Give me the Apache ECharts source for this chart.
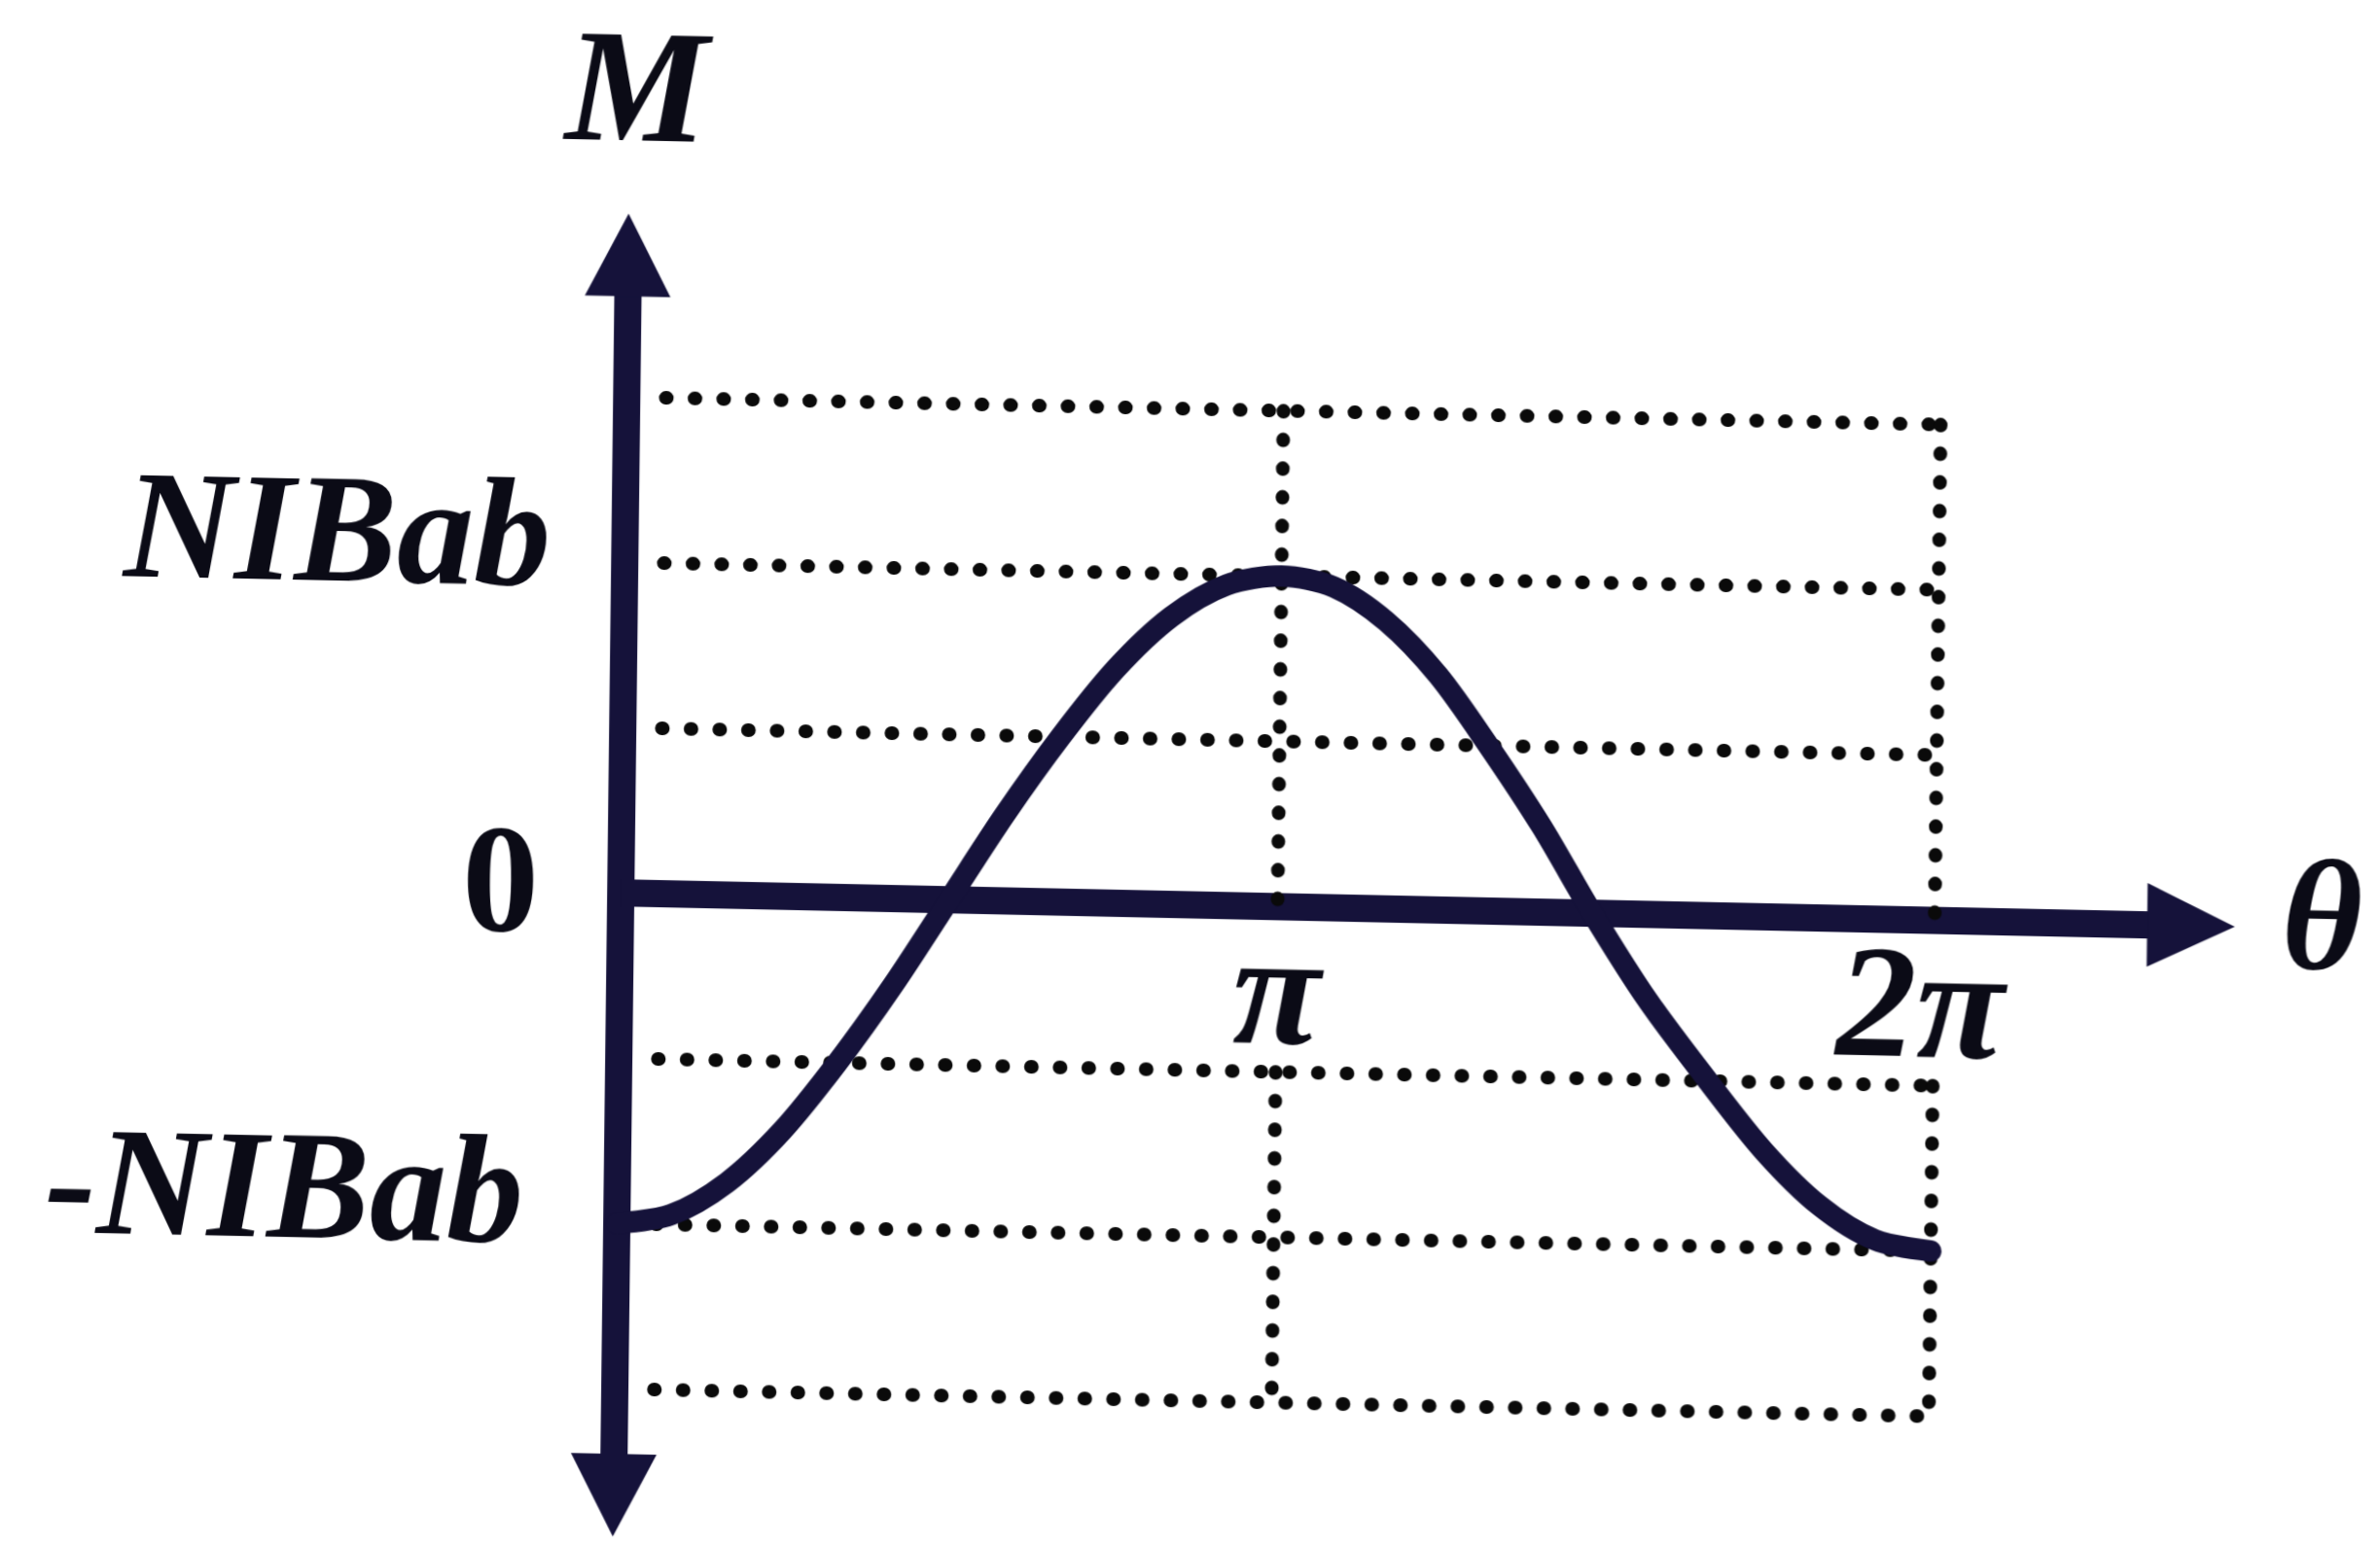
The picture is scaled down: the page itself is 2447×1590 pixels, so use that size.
<!DOCTYPE html>
<html>
<head>
<meta charset="utf-8">
<title>M – θ</title>
<script src="https://cdn.jsdelivr.net/npm/echarts@6/dist/echarts.min.js"></script>
<style>
  html, body { margin: 0; padding: 0; background: #ffffff; overflow: hidden; }
  #chart {
    width: 2447px; height: 1590px;
    /* the printed figure sits slightly askew on the page */
    transform: matrix(1, 0.021, -0.012, 1, 0, 0);
    transform-origin: 0 1590px;
  }
</style>
</head>
<body>
<div id="chart"></div>
<script>
// θ in units of π, M in units of NIBab
const thetaPts = [0, 0.083, 0.167, 0.25, 0.333, 0.417, 0.5, 0.583, 0.667, 0.75, 0.833, 0.917, 1,
                  1.08, 1.16, 1.24, 1.318, 1.4, 1.479, 1.565, 1.658, 1.745, 1.83, 1.915, 2];
const mValues  = [-1, -0.97, -0.87, -0.71, -0.5, -0.26, 0, 0.26, 0.5, 0.71, 0.87, 0.97, 1,
                  0.97, 0.87, 0.71, 0.5, 0.26, 0, -0.26, -0.5, -0.71, -0.87, -0.97, -1];

// axis labels
const yTickValues = [1, 0, -1];
const yTickLabels = ['NIBab', '0', '-NIBab'];
const xTickValues = [1, 2];
const xTickLabels = ['π', '2π'];

// dotted guide lines: rows span the box, columns stop around the θ labels
const gridRows = [1.5, 1, 0.5, -0.5, -1, -1.5];
const gridCols = [1, 2];
const rowStart = 0.06, rowEnd = 2;
const colSegments = [[1.5, 0], [-0.5, -1.5]];

// axis extents (beyond the guide box, up to the arrow heads)
const xMin = 0, xMax = 2.39;
const yMin = -1.822, yMax = 1.93;

const INK = '#0b0b16';
const LINE = '#15123a';
const FONT = "'Liberation Serif', 'Times New Roman', serif";

const GRID = { left: 629.7, top: 248.9, right: 202.6, bottom: 65.5 };
const plotHeight = 1590 - GRID.top - GRID.bottom;
// the θ axis is drawn through M = 0
const zeroOffset = -(0 - yMin) / (yMax - yMin) * plotHeight;

function tf(size, extra) {
  return Object.assign({
    fontFamily: FONT, fontSize: size, fontStyle: 'italic', fontWeight: 'bold',
    color: INK, lineHeight: size
  }, extra || {});
}

const dotStyle = { color: '#0a0a0a', width: 14, type: [1, 28.5], cap: 'round' };

const guideSeries = [];
gridRows.forEach(v => {
  guideSeries.push({
    type: 'line', silent: true, symbol: 'none', z: 1, animation: false,
    data: [[rowStart, v], [rowEnd, v]],
    lineStyle: dotStyle
  });
});
gridCols.forEach(c => {
  colSegments.forEach(seg => {
    guideSeries.push({
      type: 'line', silent: true, symbol: 'none', z: 1, animation: false,
      data: [[c, seg[0]], [c, seg[1]]],
      lineStyle: dotStyle
    });
  });
});

const curve = {
  type: 'line', name: 'M', z: 3, symbol: 'none', smooth: 0.3, animation: false,
  data: thetaPts.map((t, i) => [t, mValues[i]]),
  lineStyle: { color: LINE, width: 22, cap: 'round', join: 'round' }
};

const chart = echarts.init(document.getElementById('chart'), null, { renderer: 'canvas' });
chart.setOption({
  backgroundColor: '#ffffff',
  animation: false,
  grid: Object.assign({ containLabel: false, outerBoundsMode: 'none' }, GRID),
  xAxis: {
    type: 'value', min: xMin, max: xMax,
    position: 'bottom', offset: zeroOffset,
    name: 'θ', nameLocation: 'end', nameGap: 93,
    nameTextStyle: tf(160, { align: 'left', verticalAlign: 'middle', padding: [0, 0, 20, 0] }),
    axisLine: {
      show: true, onZero: false,
      symbol: ['none', 'triangle'], symbolSize: [86, 90],
      lineStyle: { color: LINE, width: 28, cap: 'butt' }
    },
    axisTick: { show: false },
    splitLine: { show: false },
    axisLabel: {
      show: true, margin: 15, customValues: xTickValues,
      formatter: v => {
        const i = xTickValues.indexOf(v);
        return i === 0 ? '{a|' + xTickLabels[i] + '}' : '{b|' + xTickLabels[i] + '}';
      },
      rich: {
        a: tf(165),
        b: tf(165, { padding: [0, 28, 0, 0] })
      }
    }
  },
  yAxis: {
    type: 'value', min: yMin, max: yMax,
    name: 'M', nameLocation: 'end', nameGap: 161,
    nameTextStyle: tf(165, { align: 'center', verticalAlign: 'middle', padding: [0, 0, 0, 14] }),
    axisLine: {
      show: true, onZero: false,
      symbol: ['triangle', 'triangle'], symbolSize: [88, 85],
      lineStyle: { color: LINE, width: 28, cap: 'butt' }
    },
    axisTick: { show: false },
    splitLine: { show: false },
    axisLabel: {
      show: true, margin: 76, customValues: yTickValues,
      formatter: v => {
        const i = yTickValues.indexOf(v);
        const key = i === 0 ? 'p' : (i === 1 ? 'z' : 'n');
        return '{' + key + '|' + yTickLabels[i] + '}';
      },
      rich: {
        p: tf(158, { padding: [0, 0, 32, 0] }),
        z: tf(158, { fontStyle: 'normal', padding: [0, 8, 0, 0] }),
        n: tf(158, { padding: [0, 20, 40, 0] })
      }
    }
  },
  series: guideSeries.concat([curve])
});
</script>
</body>
</html>
